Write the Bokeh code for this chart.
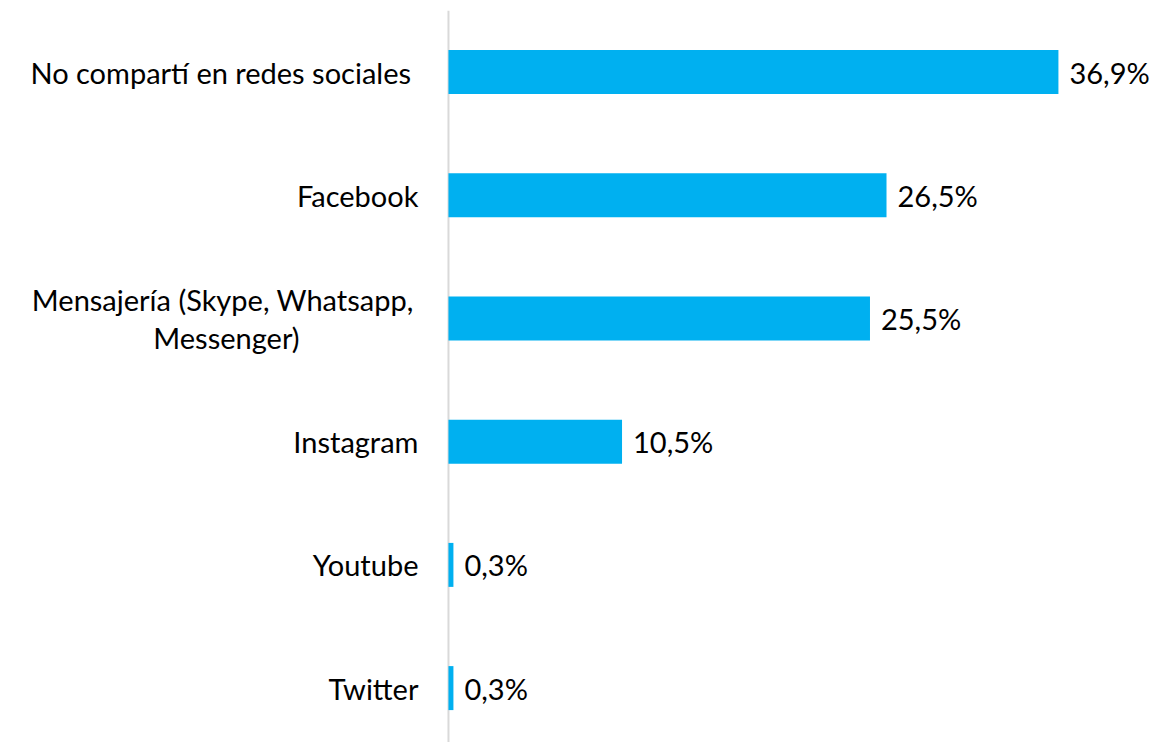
from bokeh.plotting import figure
from bokeh.models import ColumnDataSource, Range1d, LabelSet, Span
from bokeh.core.properties import value
from bokeh.embed import file_html
from bokeh.resources import INLINE

categories = [
    "No compartí en redes sociales ",
    "Facebook",
    "Mensajería (Skype, Whatsapp, \nMessenger)",
    "Instagram",
    "Youtube",
    "Twitter",
]
values = [36.9, 26.5, 25.5, 10.5, 0.3, 0.3]
value_labels = ["36,9%", "26,5%", "25,5%", "10,5%", "0,3%", "0,3%"]

FONT = "Lato"
FS = "29px"
LINE_H = 38
positions = list(range(len(categories)))

source = ColumnDataSource(dict(y=positions, values=values, labels=value_labels))

# category labels: one entry per text line; multi-line labels are centred lines
ly, ltext, lalign, lxoff, lyoff = [], [], [], [], []
for i, c in zip(positions, categories):
    lines = c.split("\n")
    n = len(lines)
    for k, line in enumerate(lines):
        ly.append(i)
        ltext.append(line)
        lalign.append("center" if n > 1 else "right")
        lxoff.append(-222 if n > 1 else -30)
        lyoff.append(((n - 1) / 2 - k) * LINE_H)
cat_source = ColumnDataSource(dict(y=ly, x=[0] * len(ly), text=ltext,
                                   align=lalign, xoff=lxoff, yoff=lyoff))

p = figure(
    width=1150, height=742,
    output_backend="svg", toolbar_location=None,
    x_range=Range1d(-27.10, 42.47), y_range=Range1d(5.4416, -0.5),
    min_border_left=0, min_border_right=0, min_border_top=10, min_border_bottom=0,
)
p.add_layout(Span(location=0, dimension="height", line_color="#D9D9D9",
                  line_width=2, level="underlay"))

p.hbar(y="y", right="values", left=0, height=0.357, source=source,
       fill_color="#00B0F0", line_color=None)

p.add_layout(LabelSet(x="values", y="y", text="labels", source=source,
                      x_offset=11, text_align="left", text_baseline="middle",
                      text_font=value(FONT), text_font_size=FS, text_color="#000000"))

p.add_layout(LabelSet(x="x", y="y", text="text", source=cat_source,
                      x_offset="xoff", y_offset="yoff", text_align="align",
                      text_baseline="middle",
                      text_font=value(FONT), text_font_size=FS, text_color="#000000"))

p.xaxis.visible = False
p.yaxis.visible = False
p.grid.visible = False
p.outline_line_color = None
p.background_fill_color = "white"
p.border_fill_color = "white"

open("out.html", "w").write(file_html(p, INLINE))
